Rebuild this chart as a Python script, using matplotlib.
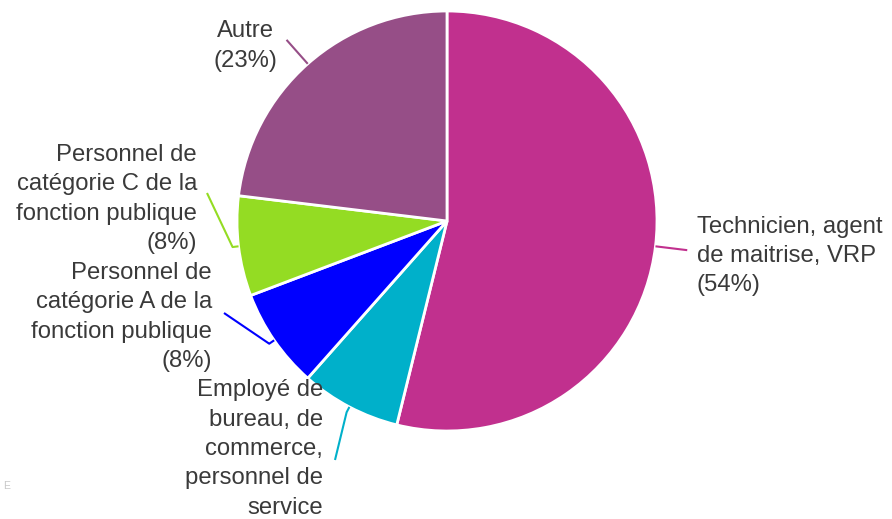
import matplotlib.pyplot as plt
import numpy as np

# data (13 answers)
labels = ["Technicien, agent\nde maitrise, VRP\n(54%)",
          "Employé de\nbureau, de\ncommerce,\npersonnel de\nservice",
          "Personnel de\ncatégorie A de la\nfonction publique\n(8%)",
          "Personnel de\ncatégorie C de la\nfonction publique\n(8%)",
          "Autre\n(23%)"]
counts = [7, 1, 1, 1, 3]
colors = ["#c1308e", "#00b0ca", "#0000ff", "#94dc23", "#964e87"]

W, H = 892, 519
cx, cy, R = 447, H - 221, 210

plt.rcParams['font.family'] = ['Liberation Sans', 'DejaVu Sans']

fig = plt.figure(figsize=(W / 100, H / 100), dpi=100)
ax = fig.add_axes([0, 0, 1, 1])

wedges, _ = ax.pie(counts, colors=colors, startangle=90, counterclock=False,
                   center=(cx, cy), radius=R,
                   wedgeprops=dict(edgecolor='white', linewidth=2))

# pie() resets the limits, so set them afterwards
ax.set_xlim(0, W)
ax.set_ylim(0, H)
ax.set_aspect('equal')
ax.axis('off')

# label placement: (text x, text y in px from top, ha, leader end in px or None for radial)
text_pos = [(697, 256, 'left', None),
            (323, 449, 'right', (335, 460)),
            (212, 317, 'right', (224, 313)),
            (197, 199, 'right', (207, 193)),
            (245, 46, 'center', None)]

for w, (tx, ty, ha, end), col, lab in zip(wedges, text_pos, colors, labels):
    ang = np.deg2rad((w.theta1 + w.theta2) / 2)
    p0 = (cx + R * np.cos(ang), cy + R * np.sin(ang))
    if end is None:
        p2 = (cx + (R + 32) * np.cos(ang), cy + (R + 32) * np.sin(ang))
        xs, ys = [p0[0], p2[0]], [p0[1], p2[1]]
    else:
        p1 = (cx + (R + 6) * np.cos(ang), cy + (R + 6) * np.sin(ang))
        xs, ys = [p0[0], p1[0], end[0]], [p0[1], p1[1], H - end[1]]
    ax.plot(xs, ys, color=col, lw=1.5, solid_capstyle='butt')
    ax.text(tx, H - ty, lab, ha=ha, va='center', multialignment=ha,
            fontsize=17.2, color='#3a3a3a', linespacing=1.44)

ax.text(3, H - 486, "E", fontsize=7.5, color='#c8c8c8', va='center')

fig.savefig("out.png", dpi=100)
